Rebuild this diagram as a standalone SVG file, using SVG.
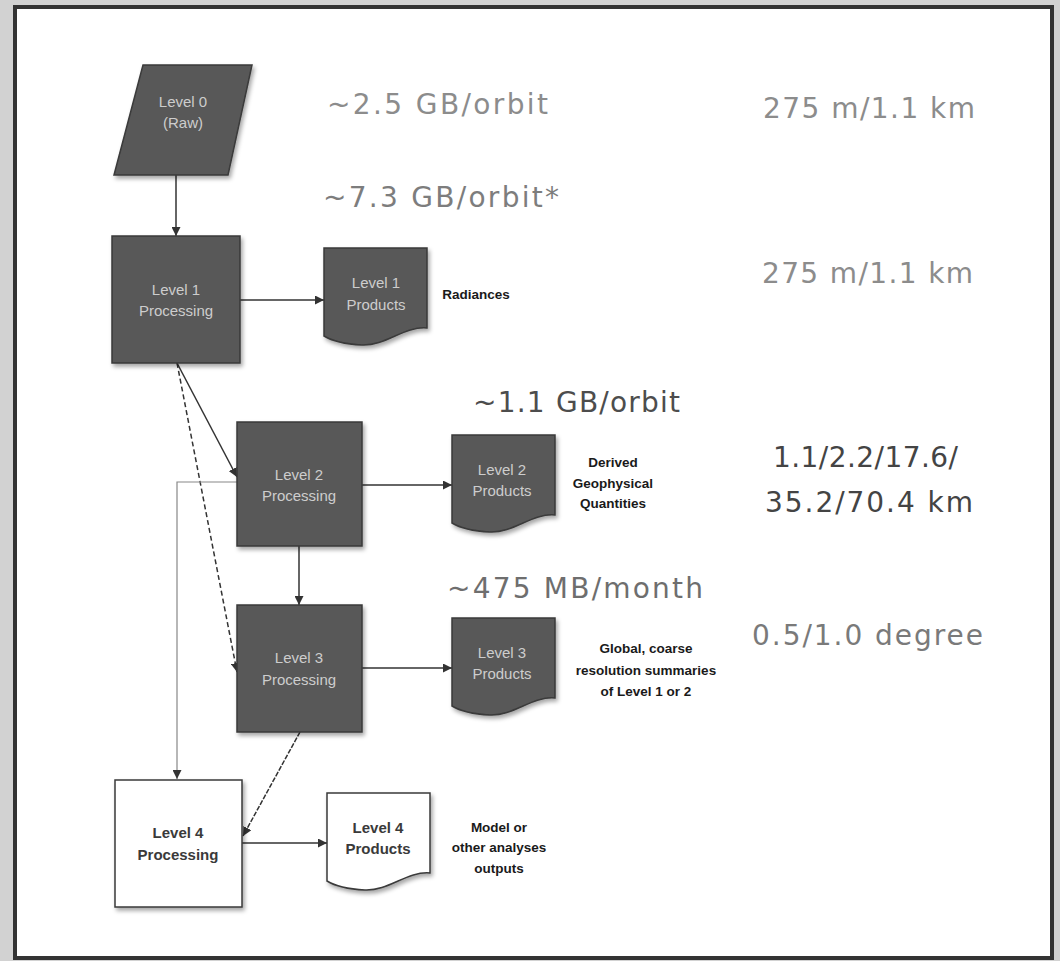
<svg xmlns="http://www.w3.org/2000/svg" width="1060" height="961" viewBox="0 0 1060 961">
<style>
.dark{fill:#585858;stroke:#3a3a3a;stroke-width:1.5}
.light{fill:#ffffff;stroke:#3a3a3a;stroke-width:1.5}
.nt{font-family:"Liberation Sans",Arial,sans-serif;font-size:15px;fill:#cdcdcd;text-anchor:middle}
.nt4{font-family:"Liberation Sans",Arial,sans-serif;font-size:15px;font-weight:bold;fill:#3a3a3a;text-anchor:middle}
.lab{font-family:"Liberation Sans",Arial,sans-serif;font-size:13.5px;font-weight:bold;fill:#1a1a1a;text-anchor:middle}
.big{font-family:"DejaVu Sans",sans-serif;font-size:28px}
.c{fill:none;stroke:#333;stroke-width:1.5}
.thin{fill:none;stroke:#888;stroke-width:1.2}
</style>
<defs>
<marker id="ah" viewBox="0 0 10 10" refX="10" refY="5" markerWidth="9" markerHeight="9" markerUnits="userSpaceOnUse" orient="auto">
<path d="M0,0 L10,5 L0,10 Z" fill="#333"/>
</marker>
<filter id="sh" x="-10%" y="-10%" width="130%" height="130%">
<feDropShadow dx="2" dy="3" stdDeviation="2" flood-color="#000" flood-opacity="0.35"/>
</filter>
<path id="doc" d="M0,0 H103 V80 C80,78 62,98 38,97 C20,96 8,93 0,88 Z"/>
</defs>
<rect x="0" y="0" width="1060" height="961" fill="#d2d2d2"/>
<rect x="15" y="7" width="1037" height="951" fill="#ffffff" stroke="#333" stroke-width="4"/>

<g id="connectors">
<line class="c" x1="176" y1="175" x2="176" y2="236" marker-end="url(#ah)"/>
<line class="c" x1="240" y1="300" x2="324" y2="300" marker-end="url(#ah)"/>
<line class="c" x1="177" y1="363" x2="237" y2="477" marker-end="url(#ah)"/>
<line class="c" x1="177" y1="363" x2="237" y2="672" stroke-width="2.2" stroke-dasharray="5,3" marker-end="url(#ah)"/>
<line class="c" x1="362" y1="485" x2="452" y2="485" marker-end="url(#ah)"/>
<line class="c" x1="299" y1="546" x2="299" y2="605" marker-end="url(#ah)"/>
<line class="c" x1="362" y1="668" x2="452" y2="668" marker-end="url(#ah)"/>
<polyline class="thin" points="237,482 177,482 177,779" marker-end="url(#ah)"/>
<line class="c" x1="300" y1="732" x2="243" y2="836" stroke-dasharray="5,1.5" marker-end="url(#ah)"/>
<line class="c" x1="242" y1="843" x2="327" y2="843" marker-end="url(#ah)"/>
</g>

<g id="level0">
<polygon class="dark" filter="url(#sh)" points="143,65 252,65 228,175 114,175"/>
<text class="nt" x="183" y="107">Level 0</text>
<text class="nt" x="183" y="128">(Raw)</text>
</g>

<g id="level1-proc">
<rect class="dark" filter="url(#sh)" x="112" y="236" width="128" height="127"/>
<text class="nt" x="176" y="295">Level 1</text>
<text class="nt" x="176" y="316">Processing</text>
</g>

<g id="level1-prod">
<use href="#doc" class="dark" filter="url(#sh)" x="324" y="248"/>
<text class="nt" x="376" y="288">Level 1</text>
<text class="nt" x="376" y="310">Products</text>
</g>

<g id="level2-proc">
<rect class="dark" filter="url(#sh)" x="237" y="422" width="125" height="124"/>
<text class="nt" x="299" y="480">Level 2</text>
<text class="nt" x="299" y="501">Processing</text>
</g>

<g id="level2-prod">
<use href="#doc" class="dark" filter="url(#sh)" x="452" y="435"/>
<text class="nt" x="502" y="475">Level 2</text>
<text class="nt" x="502" y="496">Products</text>
</g>

<g id="level3-proc">
<rect class="dark" filter="url(#sh)" x="237" y="605" width="125" height="127"/>
<text class="nt" x="299" y="663">Level 3</text>
<text class="nt" x="299" y="685">Processing</text>
</g>

<g id="level3-prod">
<use href="#doc" class="dark" filter="url(#sh)" x="452" y="618"/>
<text class="nt" x="502" y="658">Level 3</text>
<text class="nt" x="502" y="679">Products</text>
</g>

<g id="level4-proc">
<rect class="light" filter="url(#sh)" x="115" y="780" width="127" height="127"/>
<text class="nt4" x="178" y="838">Level 4</text>
<text class="nt4" x="178" y="860">Processing</text>
</g>

<g id="level4-prod">
<use href="#doc" class="light" filter="url(#sh)" x="327" y="793"/>
<text class="nt4" x="378" y="833">Level 4</text>
<text class="nt4" x="378" y="854">Products</text>
</g>

<g id="labels">
<text class="lab" x="476" y="299">Radiances</text>
<text class="lab" x="613" y="467">Derived</text>
<text class="lab" x="613" y="488">Geophysical</text>
<text class="lab" x="613" y="508">Quantities</text>
<text class="lab" x="646" y="653">Global, coarse</text>
<text class="lab" x="646" y="675">resolution summaries</text>
<text class="lab" x="646" y="696">of Level 1 or 2</text>
<text class="lab" x="499" y="832">Model or</text>
<text class="lab" x="499" y="852">other analyses</text>
<text class="lab" x="499" y="873">outputs</text>
</g>

<g id="figures">
<text class="big" x="327" y="114" textLength="221" lengthAdjust="spacing" fill="#8c8c8c">~2.5 GB/orbit</text>
<text class="big" x="323" y="207" textLength="236" lengthAdjust="spacing" fill="#7d7d7d">~7.3 GB/orbit*</text>
<text class="big" x="763" y="118" textLength="212" lengthAdjust="spacing" fill="#8c8c8c">275 m/1.1 km</text>
<text class="big" x="762" y="283" textLength="211" lengthAdjust="spacing" fill="#8c8c8c">275 m/1.1 km</text>
<text class="big" x="473" y="412" textLength="207" lengthAdjust="spacing" fill="#4d4d4d">~1.1 GB/orbit</text>
<text class="big" x="773" y="467" textLength="185" lengthAdjust="spacing" fill="#444">1.1/2.2/17.6/</text>
<text class="big" x="765" y="512" textLength="208" lengthAdjust="spacing" fill="#444">35.2/70.4 km</text>
<text class="big" x="447" y="598" textLength="256" lengthAdjust="spacing" fill="#6e6e6e">~475 MB/month</text>
<text class="big" x="752" y="645" textLength="231" lengthAdjust="spacing" fill="#7a7a7a">0.5/1.0 degree</text>
</g>
</svg>
